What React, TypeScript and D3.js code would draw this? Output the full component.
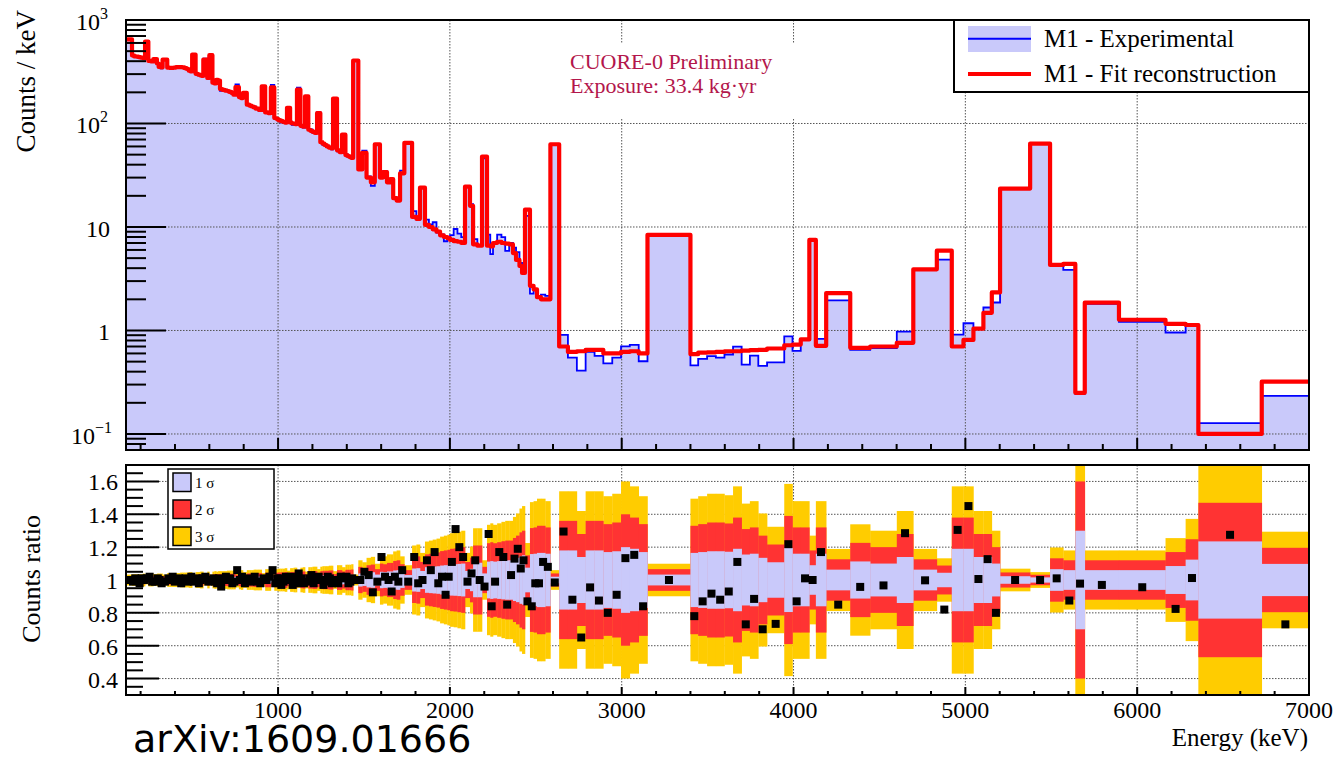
import React from 'react';
import * as d3 from 'd3';

// ---- Data ----
const binEdges = [
  115,150,162,175,188,200,213,226,245,260,274,295,305,317,328,355,368,380,393,405,
  418,430,443,455,468,480,490,500,520,533,545,555,565,588,600,618,629,640,651,662,
  676,690,703,715,728,740,752,772,784,796,818,832,845,858,870,888,905,925,942,958,
  978,990,1000,1013,1025,1039,1052,1070,1080,1090,1100,1110,1130,1144,1157,1176,1188,1200,1214,1227,
  1246,1258,1270,1283,1295,1308,1320,1343,1358,1372,1392,1404,1415,1426,1437,
  1467,1490,1515,1540,1563,1593,1611,1634,1652,1670,1690,1710,1735,1780,1805,1826,1855,1878,1900,1922,
  1943,1965,1985,2001,2022,2044,2066,2088,2117,2135,2160,2187,2216,2235,2251,2275,2300,2322,2345,2367,
  2385,2405,2420,2437,2466,2487,2507,2530,2555,2585,
  2636,2687,2739,2790,2842,2893,2945,2996,3047,3099,3150,3400,3445,3497,3548,3598,3648,3698,3746,3795,
  3846,3946,3994,4042,4092,4130,4190,4330,4446,4601,4697,4834,4921,4989,5047,5105,5154,5202,5377,5493,
  5570,5640,5695,5894,6165,6282,6356,6725,7000
];

const fitCounts = [
  650,455,445,442,437,432,428,620,402,398, 420,380,352,348,415,346,344,345,346,350,
  351,350,348,342,336,324,318,464,302,297, 292,288,415,275,457,248,244,264,260,215,
  211,208,206,202,198,190,225,180,176,198, 152,149,146,143,139,135,229,128,126,223,
  113,111,108,106,104,102,142,102,100,99.5, 98.5,213,95,93,183,87,85,83,81,126,
  66,64,62,60,58.5,57.5,174,55,53,78, 49.5,48.5,47.5,46.5,406,
  36,52,30,27,63,30,34,27,29,19, 18,33,65,12.5,12,24,10.5,10,9.5,9,
  8.3,8,7.8,7.5,7.3,7.2,7,24.5,16,6.8, 6.6,48,6.6,6.5,7,7.2,7,6.9,6.8,5.6,
  4.8,4.2,3.6,14.7,2.7,2.5,2.1,2,2,63,
  0.70,0.62,0.63,0.65,0.65,0.60,0.60,0.62,0.63,0.60,
  8.4,0.59,0.61,0.615,0.62,0.63,0.63,0.64,0.645,0.65,
  0.67,0.72,0.73,0.82,7.5,0.71,2.3,0.68,0.70,0.76,
  3.9,5.9,0.70,0.81,1.04,1.48,2.33,23.5,64,4.3,
  4.4,0.25,1.86,1.27,1.16,1.13,0.1,0.32
];

const countRatio = [
  1.00,0.99,1.01,1.00,0.98,1.01,1.00,1.01,1.02,0.99, 0.99,1.01,1.00,0.98,0.99,1.01,1.00,1.02,0.99,1.00,
  1.01,0.98,1.00,1.01,0.99,1.00,1.02,0.99,1.01,0.98, 1.00,1.01,1.02,0.99,1.00,1.01,0.99,0.98,1.01,0.96,
  1.00,1.02,1.00,1.01,0.98,0.99,1.06,1.00,1.02,0.98, 1.01,0.99,1.00,1.02,0.99,0.98,1.01,1.00,1.02,1.06,
  0.98,1.01,1.01,0.97,0.99,1.02,1.00,1.02,0.97,1.01, 0.98,1.04,1.01,0.98,0.99,1.01,1.03,0.98,1.00,1.02,
  1.00,0.97,0.99,1.02,1.01,0.98,1.00,0.98,1.02,1.01, 1.02,0.98,0.99,1.01,1.00,
  1.00,1.05,1.03,0.925,0.99,1.14,1.02,1.00,0.93,1.02, 0.99,1.06,0.99,1.14,0.98,1.00,1.12,1.06,1.17,0.98,
  1.02,0.91,1.02,1.11,1.31,1.20,1.14,0.99,1.04,1.12, 1.00,0.96,1.28,0.84,0.99,1.17,1.14,0.85,1.03,1.13,
  1.19,1.07,1.12,0.87,0.84,0.98,0.98,1.11,1.08,0.985,
  1.295,0.88,0.65,0.955,0.875,0.80,0.91,1.133,1.153,0.84,
  1.00,0.78,0.87,0.917,0.88,0.93,1.11,0.73,0.885,0.70,
  0.733,1.218,0.87,1.01,1.00,1.17,0.85,0.958,0.967,1.285,
  0.998,0.82,1.305,1.45,1.006,1.127,0.80,1.00,1.00,1.01,
  0.875,0.978,0.97,0.956,0.824,1.012,1.275,0.73
];

const ratioSigma = [
  0.011,0.012,0.012,0.012,0.012,0.012,0.013,0.009,0.013,0.013, 0.012,0.013,0.013,0.013,0.011,0.014,0.014,0.014,0.014,0.014,
  0.014,0.015,0.015,0.015,0.015,0.016,0.016,0.010,0.016,0.016, 0.017,0.017,0.011,0.017,0.011,0.017,0.018,0.017,0.018,0.018,
  0.018,0.018,0.019,0.019,0.019,0.019,0.015,0.019,0.020,0.016, 0.020,0.020,0.020,0.021,0.021,0.021,0.014,0.022,0.022,0.014,
  0.022,0.022,0.023,0.023,0.023,0.024,0.019,0.024,0.024,0.025, 0.025,0.016,0.025,0.026,0.017,0.026,0.026,0.027,0.027,0.022,
  0.027,0.028,0.028,0.028,0.029,0.029,0.018,0.030,0.030,0.026, 0.031,0.031,0.031,0.032,0.011,
  0.040,0.036,0.045,0.047,0.033,0.050,0.048,0.052,0.052,0.058, 0.060,0.048,0.030,0.070,0.072,0.055,0.078,0.080,0.082,0.084,
  0.088,0.090,0.092,0.095,0.096,0.098,0.100,0.055,0.068,0.105, 0.105,0.040,0.112,0.115,0.112,0.115,0.118,0.120,0.120,0.128,
  0.135,0.145,0.150,0.075,0.158,0.160,0.165,0.165,0.160,0.020,
  0.18,0.18,0.14,0.18,0.18,0.17,0.175,0.20,0.19,0.17,
  0.033,0.165,0.17,0.175,0.175,0.172,0.19,0.155,0.16,0.135,
  0.108,0.195,0.16,0.16,0.09,0.16,0.063,0.113,0.10,0.14,
  0.063,0.044,0.19,0.19,0.14,0.14,0.10,0.023,0.016,0.066,
  0.06,0.30,0.06,0.06,0.085,0.124,0.235,0.098
];

const xMajorTicks = [1000, 2000, 3000, 4000, 5000, 6000, 7000];
const xTickLabels = ['1000', '2000', '3000', '4000', '5000', '6000', '7000'];
const yTopDecades = [0.1, 1, 10, 100, 1000];
const yTopLabels = [['10', '\u22121'], ['1', ''], ['10', ''], ['10', '2'], ['10', '3']];
const yBotMajor = [0.4, 0.6, 0.8, 1.0, 1.2, 1.4, 1.6];
const yBotLabels = ['0.4', '0.6', '0.8', '1', '1.2', '1.4', '1.6'];
const sigmaLevels = [3, 2, 1];
const sigmaNames = ['1 \u03c3', '2 \u03c3', '3 \u03c3'];

const FILL = '#c9c9fa';
const BLUE = '#0000ff';
const RED = '#ff0000';
const RED2 = '#ff3333';
const YEL = '#ffcc00';
const SIGCOL: Record<number, string> = { 1: '#c9c9fa', 2: RED2, 3: YEL };
const SERIF = "'Liberation Serif', 'Times New Roman', Times, serif";
const SERIF_STYLE = { fontFamily: SERIF };

export default function App() {
  const L = 126, R = 1309, T1 = 20, B1 = 450, T2 = 465, B2 = 695;
  const x = d3.scaleLinear().domain([115, 7000]).range([L, R]);
  const yT = d3.scaleLog().domain([0.07, 1000]).range([B1, T1]);
  const yB = d3.scaleLinear().domain([0.3, 1.7]).range([B2, T2]);
  const n = fitCounts.length;
  const expCounts = fitCounts.map((f, i) => f * countRatio[i]);

  const stepBody = (vals: number[]) => {
    let d = '';
    for (let i = 0; i < n; i++) {
      d += `H${x(binEdges[i + 1])}`;
      if (i < n - 1) d += `V${yT(vals[i + 1])}`;
    }
    return d;
  };
  const stepPath = (vals: number[]) => `M${x(binEdges[0])},${yT(vals[0])}` + stepBody(vals);
  const fillPath = `M${x(binEdges[0])},${B1}V${yT(expCounts[0])}` + stepBody(expCounts) + `V${B1}Z`;

  const xMinor: number[] = [];
  for (let v = 200; v < 7000; v += 200) if (v % 1000 !== 0 && v > 115) xMinor.push(v);
  const yTopMinor: number[] = [];
  for (let e = -2; e <= 2; e++) for (let k = 2; k <= 9; k++) {
    const v = k * Math.pow(10, e);
    if (v > 0.07 && v < 1000) yTopMinor.push(v);
  }
  const yBotMinor: number[] = [];
  for (let k = 7; k <= 33; k++) { const v = k * 0.05; if (k % 4 !== 0) yBotMinor.push(+v.toFixed(2)); }

  const grid = { stroke: '#555', strokeWidth: 1, strokeDasharray: '1.5 1.5' };

  return (
    <svg width={1336} height={758} style={{ position: 'absolute', left: 0, top: 0, display: 'block', background: '#fff' }}>
      <defs>
        <clipPath id="clipTop"><rect x={L} y={T1} width={R - L} height={B1 - T1} /></clipPath>
        <clipPath id="clipBot"><rect x={L} y={T2} width={R - L} height={B2 - T2} /></clipPath>
      </defs>
      <rect x={0} y={0} width={1336} height={758} fill="#fff" />

      {/* ---------- TOP PANEL ---------- */}
      <g clipPath="url(#clipTop)">
        <path d={fillPath} fill={FILL} stroke="none" />
      </g>
      {xMajorTicks.filter(v => v < 7000).map(v => (
        <line key={'gx' + v} x1={x(v)} x2={x(v)} y1={T1} y2={B1} {...grid} />
      ))}
      {yTopDecades.filter(v => v < 1000).map(v => (
        <line key={'gy' + v} x1={L} x2={R} y1={yT(v)} y2={yT(v)} {...grid} />
      ))}
      <rect x={530} y={43} width={330} height={75} fill="#fff" />
      <text x={570} y={69} fontSize={22} fill="#b3164b" style={SERIF_STYLE}>CUORE-0 Preliminary</text>
      <text x={570} y={93} fontSize={22} fill="#b3164b" style={SERIF_STYLE}>Exposure: 33.4 kg·yr</text>

      <g clipPath="url(#clipTop)">
        <path d={stepPath(expCounts)} fill="none" stroke={BLUE} strokeWidth={1.8} />
        <path d={stepPath(fitCounts)} fill="none" stroke={RED} strokeWidth={4.2} strokeLinejoin="round" strokeLinecap="round" />
      </g>

      {/* frame & ticks top */}
      <rect x={L} y={T1} width={R - L} height={B1 - T1} fill="none" stroke="#000" strokeWidth={2} />
      {xMajorTicks.map(v => <line key={'tx' + v} x1={x(v)} x2={x(v)} y1={B1} y2={B1 - 12} stroke="#000" strokeWidth={2} />)}
      {xMinor.map(v => <line key={'tmx' + v} x1={x(v)} x2={x(v)} y1={B1} y2={B1 - 6} stroke="#000" strokeWidth={2} />)}
      {yTopDecades.map(v => <line key={'ty' + v} x1={L} x2={L + 40} y1={yT(v)} y2={yT(v)} stroke="#000" strokeWidth={2} />)}
      {yTopMinor.map(v => <line key={'tmy' + v} x1={L} x2={L + 20} y1={yT(v)} y2={yT(v)} stroke="#000" strokeWidth={2} />)}
      {yTopDecades.map((v, i) => (
        <text key={'ly' + v} x={yTopLabels[i][1] === '' ? 110 : (yTopLabels[i][1].length > 1 ? 112 : 108)} y={yT(v) + 10}
          fontSize={24} textAnchor="end" style={SERIF_STYLE}>
          {yTopLabels[i][0]}
          {yTopLabels[i][1] !== '' && <tspan fontSize={16} dy={-11}>{yTopLabels[i][1]}</tspan>}
        </text>
      ))}
      <text transform="translate(35,10) rotate(-90)" fontSize={27} textAnchor="end" style={SERIF_STYLE}>Counts / keV</text>

      {/* legend top */}
      <rect x={954} y={20} width={355} height={72} fill="#fff" stroke="#000" strokeWidth={2} />
      <rect x={968} y={26} width={63} height={26} fill={FILL} />
      <line x1={968} x2={1031} y1={38.7} y2={38.7} stroke={BLUE} strokeWidth={2} />
      <text x={1044} y={47} fontSize={25} style={SERIF_STYLE}>M1 - Experimental</text>
      <line x1={968} x2={1031} y1={74} y2={74} stroke={RED} strokeWidth={4} />
      <text x={1044} y={82} fontSize={25} style={SERIF_STYLE}>M1 - Fit reconstruction</text>

      {/* ---------- BOTTOM PANEL ---------- */}
      {xMajorTicks.filter(v => v < 7000).map(v => (
        <line key={'bgx' + v} x1={x(v)} x2={x(v)} y1={T2} y2={B2} {...grid} />
      ))}
      {yBotMajor.map(v => (
        <line key={'bgy' + v} x1={L} x2={R} y1={yB(v)} y2={yB(v)} {...grid} />
      ))}
      <g clipPath="url(#clipBot)">
        {sigmaLevels.map(k => (
          <g key={'s' + k}>
            {ratioSigma.map((s, i) => {
              const y0 = yB(Math.min(1.75, 1 + k * s));
              const y1 = yB(Math.max(0.25, 1 - k * s));
              return <rect key={i} x={x(binEdges[i])} width={x(binEdges[i + 1]) - x(binEdges[i]) + 0.3}
                y={y0} height={y1 - y0} fill={SIGCOL[k]} />;
            })}
          </g>
        ))}
        {countRatio.map((r, i) => {
          const cx = x((binEdges[i] + binEdges[i + 1]) / 2);
          return <rect key={'p' + i} x={cx - 4} y={yB(r) - 4} width={8} height={8} fill="#000" />;
        })}
      </g>
      <rect x={L} y={T2} width={R - L} height={B2 - T2} fill="none" stroke="#000" strokeWidth={2} />
      {xMajorTicks.map(v => <line key={'btx' + v} x1={x(v)} x2={x(v)} y1={B2} y2={B2 - 8} stroke="#000" strokeWidth={2} />)}
      {xMinor.map(v => <line key={'btmx' + v} x1={x(v)} x2={x(v)} y1={B2} y2={B2 - 4} stroke="#000" strokeWidth={2} />)}
      {yBotMajor.map(v => <line key={'bty' + v} x1={L} x2={L + 33} y1={yB(v)} y2={yB(v)} stroke="#000" strokeWidth={2} />)}
      {yBotMinor.map(v => <line key={'btmy' + v} x1={L} x2={L + 17} y1={yB(v)} y2={yB(v)} stroke="#000" strokeWidth={2} />)}
      {yBotMajor.map((v, i) => (
        <text key={'bly' + v} x={118} y={yB(v) + 9} fontSize={24} textAnchor="end" style={SERIF_STYLE}>{yBotLabels[i]}</text>
      ))}
      {xMajorTicks.map((v, i) => (
        <text key={'blx' + v} x={x(v)} y={718} fontSize={24} textAnchor="middle" style={SERIF_STYLE}>{xTickLabels[i]}</text>
      ))}
      <text transform="translate(39.5,515) rotate(-90)" fontSize={26} textAnchor="end" style={SERIF_STYLE}>Counts ratio</text>
      <text x={1308} y={746} fontSize={25} textAnchor="end" style={SERIF_STYLE}>Energy (keV)</text>

      {/* legend bottom */}
      <rect x={168} y={469} width={106} height={80} fill="#fff" stroke="#000" strokeWidth={1.5} />
      {[1, 2, 3].map((k, i) => (
        <g key={'lg' + k}>
          <rect x={173} y={473 + i * 27} width={18} height={18.5} fill={SIGCOL[k]} stroke="#000" strokeWidth={1.5} />
          <text x={195} y={488 + i * 27} fontSize={15} style={SERIF_STYLE}>{sigmaNames[i]}</text>
        </g>
      ))}

      <text x={133} y={752} fontSize={38} style={{ fontFamily: "'DejaVu Sans', sans-serif" }}>arXiv:1609.01666</text>
    </svg>
  );
}
